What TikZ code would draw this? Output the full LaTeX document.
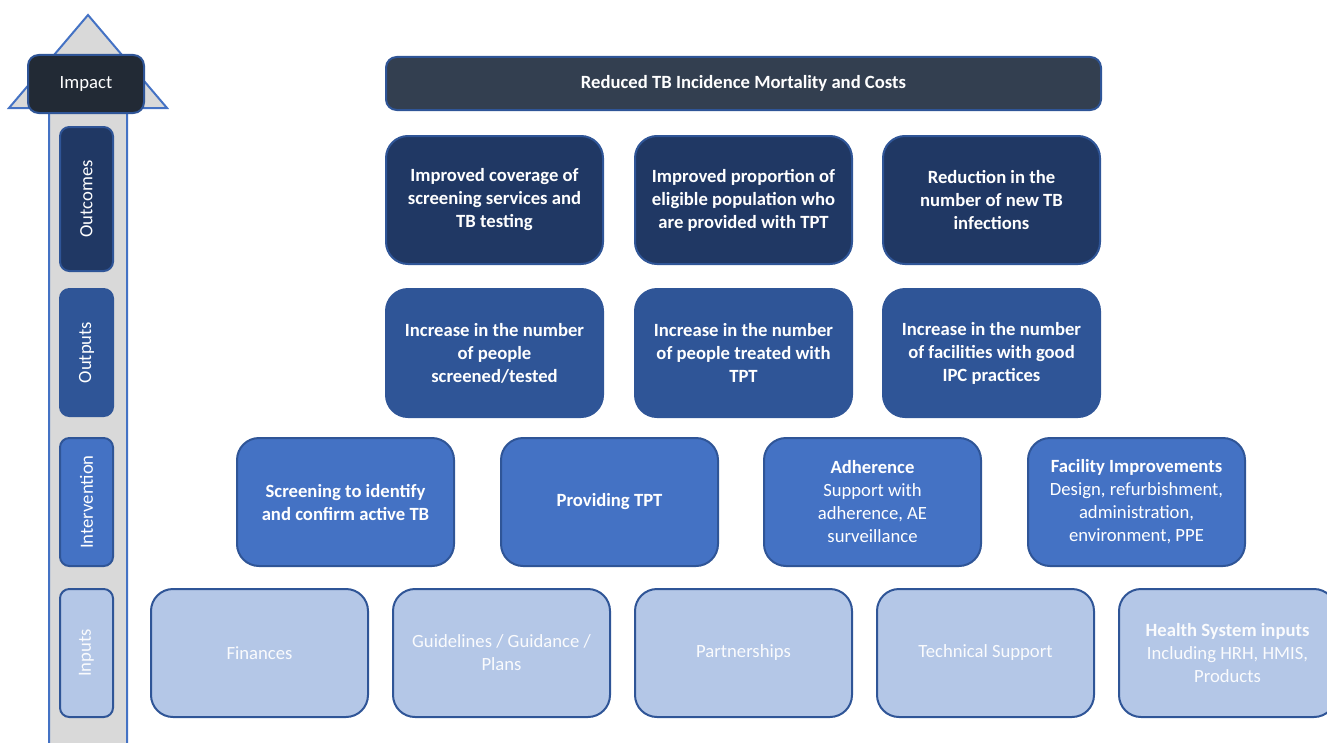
\documentclass[tikz,border=0pt]{standalone}
\usepackage{fontspec}
\setmainfont{Carlito}
\usetikzlibrary{positioning}
\definecolor{impactfill}{HTML}{222A35}
\definecolor{goalfill}{HTML}{333F50}
\definecolor{outcomefill}{HTML}{203864}
\definecolor{outputfill}{HTML}{2F5597}
\definecolor{interfill}{HTML}{4472C4}
\definecolor{inputfill}{HTML}{B4C7E7}
\definecolor{edgeblue}{HTML}{2F5597}
\definecolor{arrowgrey}{HTML}{D9D9D9}
\tikzset{
    chain diagram/.style = {x=0.75pt, y=-0.75pt},
    tier/.style      = {draw=edgeblue, line width=1.5pt, text=white,
                        align=center, rounded corners=16.5pt,
                        font=\fontsize{14}{17.25}\selectfont},
    box/.style       = {tier, minimum width=162.75pt, minimum height=96pt,
                        inner sep=2pt},
    outcome/.style   = {box, fill=outcomefill, font=\fontsize{14}{17.25}\selectfont\bfseries},
    output/.style    = {box, fill=outputfill, font=\fontsize{14}{17.25}\selectfont\bfseries},
    action/.style    = {box, fill=interfill},
    input/.style     = {box, fill=inputfill, text=white!93!inputfill},
    level/.style     = {tier, rounded corners=7pt, rotate=90,
                        minimum height=39.75pt, inner sep=1pt},
    ladder/.style    = {draw=interfill, line width=1.5pt, fill=arrowgrey,
                        line join=miter}
}

\begin{document}
\begin{tikzpicture}[chain diagram]
\useasboundingbox (0,0) rectangle (1327,742);

% ================= Rising arrow (left) =================
\draw[ladder] (49,770) -- (49,108) -- (9,108) -- (88,15) -- (167,108)
    -- (127,108) -- (127,770) -- cycle;

\node[tier, fill=impactfill, rounded corners=8pt, minimum width=87pt,
      minimum height=43.5pt] (impact) at (86,84) {Impact};

\node[level, fill=outcomefill, minimum width=108pt]  (lvOutcome) at (86.5,199)   {Outcomes};
\node[level, fill=outputfill,  minimum width=95.25pt] (lvOutput) at (86.5,352.5) {Outputs};
\node[level, fill=interfill,   minimum width=96pt]   (lvInter)   at (86.5,502)   {Intervention};
\node[level, fill=inputfill, text=white!93!inputfill,
      minimum width=96pt]                            (lvInput)   at (86.5,653)   {Inputs};

% ================= Impact row =================
\node[tier, fill=goalfill, rounded corners=8pt, minimum width=536.25pt,
      minimum height=39.75pt, font=\fontsize{14}{17.25}\selectfont\bfseries]
      (goal) at (743.5,83.5) {Reduced TB Incidence Mortality and Costs};

% ================= Outcomes =================
\node[outcome] (oc1) at (494.5,200) {Improved coverage of\\screening services and\\TB testing};
\node[outcome] (oc2) at (743.5,200) {Improved proportion of\\eligible population who\\are provided with TPT};
\node[outcome] (oc3) at (991.5,200) {Reduction in the\\number of new TB\\infections};

% ================= Outputs =================
\node[output] (op1) at (494.5,353) {Increase in the number\\of people\\screened/tested};
\node[output] (op2) at (743.5,353) {Increase in the number\\of people treated with\\TPT};
\node[output] (op3) at (991.5,353) {Increase in the number\\of facilities with good\\IPC practices};

% ================= Interventions =================
\node[action] (iv1) at (345.5,502) {\bfseries Screening to identify\\\bfseries and confirm active TB};
\node[action] (iv2) at (609.5,502) {\bfseries Providing TPT};
\node[action] (iv3) at (872.5,502) {\bfseries Adherence\\Support with\\adherence, AE\\surveillance};
\node[action] (iv4) at (1136.5,502) {\bfseries Facility Improvements\\Design, refurbishment,\\administration,\\environment, PPE};

% ================= Inputs =================
\node[input] (in1) at (259.5,653)  {Finances};
\node[input] (in2) at (501.5,653)  {Guidelines / Guidance /\\Plans};
\node[input] (in3) at (743.5,653)  {Partnerships};
\node[input] (in4) at (985.5,653)  {Technical Support};
\node[input] (in5) at (1227.5,653) {\bfseries Health System inputs\\Including HRH, HMIS,\\Products};

\end{tikzpicture}
\end{document}
